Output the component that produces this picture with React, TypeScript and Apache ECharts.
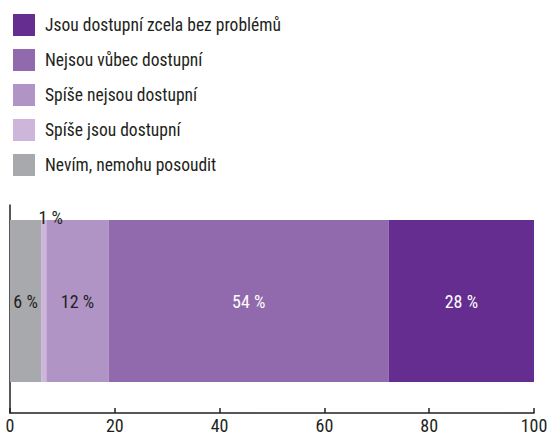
import React, { useEffect, useRef } from "react";
import * as echarts from "echarts";

const categories = [""];
const seriesNames = [
  "Nevím, nemohu posoudit",
  "Spíše jsou dostupní",
  "Spíše nejsou dostupní",
  "Nejsou vůbec dostupní",
  "Jsou dostupní zcela bez problémů",
];
const seriesValues = [6, 1, 12, 54, 28];
const seriesColors = ["#A7A9AC", "#CDB6DA", "#B094C6", "#9169AD", "#652D90"];
const legendOrder = [
  "Jsou dostupní zcela bez problémů",
  "Nejsou vůbec dostupní",
  "Spíše nejsou dostupní",
  "Spíše jsou dostupní",
  "Nevím, nemohu posoudit",
];
const xTicks = [0, 20, 40, 60, 80, 100];

const FONT = "'Roboto Condensed', 'DejaVu Sans Condensed', sans-serif";
const INK = "#231F20";

export default function App() {
  const ref = useRef<HTMLDivElement>(null);
  useEffect(() => {
    if (!ref.current) return;
    const chart = echarts.init(ref.current, null, { renderer: "svg" });
    const total = seriesValues.reduce((a, b) => a + b, 0);
    const labelColors = [INK, INK, INK, "#FFFFFF", "#FFFFFF"];
    const series: any[] = seriesNames.map((name, i) => ({
      name,
      type: "bar",
      stack: "all",
      barWidth: 162,
      itemStyle: { color: seriesColors[i] },
      label: {
        show: true,
        position: i === 1 ? "top" : "inside",
        offset: i === 1 ? [7, 11] : [0, 0],
        distance: 5,
        formatter: () => `${seriesValues[i]} %`,
        color: labelColors[i],
        fontFamily: FONT,
        fontSize: 18,
      },
      data: categories.map(() => (seriesValues[i] / total) * 100),
    }));
    series.push({
      name: "_spacer",
      type: "bar",
      barWidth: 16,
      barGap: 0,
      data: [],
    });
    chart.setOption({
      animation: false,
      legend: {
        orient: "vertical",
        left: 8,
        top: 9,
        itemWidth: 22,
        itemHeight: 22,
        itemGap: 13,
        icon: "rect",
        data: legendOrder,
        selectedMode: false,
        textStyle: {
          fontFamily: FONT,
          fontSize: 17.5,
          color: INK,
          padding: [0, 0, 0, 5],
        },
      },
      grid: { left: 10, right: 17, top: 205, bottom: 21, containLabel: false },
      xAxis: {
        type: "value",
        min: xTicks[0],
        max: xTicks[xTicks.length - 1],
        interval: 20,
        axisLine: { show: true, lineStyle: { color: INK, width: 1.5 } },
        axisTick: { show: true, inside: true, length: 5, lineStyle: { color: INK, width: 1.5 } },
        splitLine: { show: false },
        axisLabel: { fontFamily: FONT, fontSize: 18, color: INK, margin: 3 },
      },
      yAxis: {
        type: "category",
        data: categories,
        axisLine: { show: true, lineStyle: { color: INK, width: 1.5 } },
        axisTick: { show: false },
        axisLabel: { show: false },
      },
      series,
    });
    return () => chart.dispose();
  }, []);
  return (
    <div
      ref={ref}
      style={{ position: "fixed", left: 0, top: 0, width: 551, height: 434, background: "#fff" }}
    />
  );
}
